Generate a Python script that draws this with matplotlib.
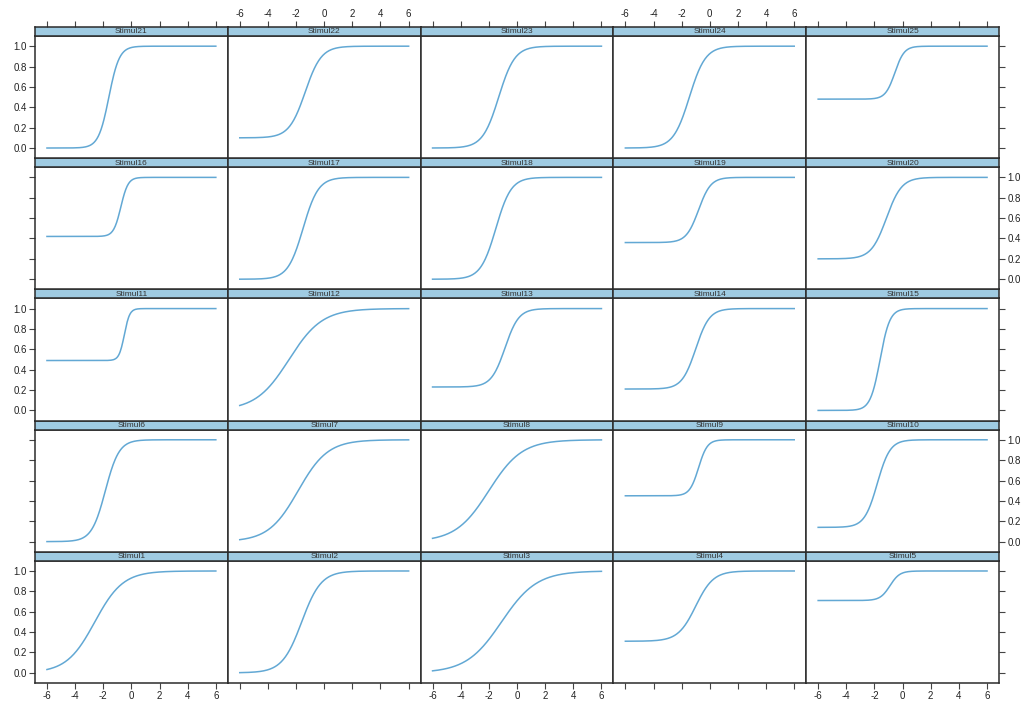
import numpy as np
import matplotlib.pyplot as plt

# item characteristic curves, three-parameter logistic per stimulus
stimuli = ["Stimul%d" % i for i in range(1, 26)]
guess = [0.00, 0.00, 0.00, 0.31, 0.71,
         0.00, 0.00, 0.00, 0.45, 0.14,
         0.49, 0.00, 0.23, 0.21, 0.00,
         0.42, 0.00, 0.00, 0.36, 0.20,
         0.00, 0.10, 0.00, 0.00, 0.48]
location = [-2.6, -1.6, -1.1, -1.0, -0.9,
            -1.85, -1.85, -2.0, -0.8, -1.8,
            -0.5, -2.5, -0.85, -1.0, -1.6,
            -0.75, -1.5, -1.5, -0.8, -1.15,
            -1.6, -1.35, -1.3, -1.45, -0.55]
slope = [1.0, 1.45, 0.8, 1.6, 2.9,
         2.05, 0.95, 0.85, 3.2, 2.2,
         5.3, 0.85, 2.05, 2.05, 2.9,
         3.9, 1.85, 1.85, 2.3, 1.85,
         2.7, 1.75, 1.75, 1.75, 3.0]
theta = np.linspace(-6, 6, 241)

xticks = [-6, -4, -2, 0, 2, 4, 6]
yticks = [0.0, 0.2, 0.4, 0.6, 0.8, 1.0]

W, H = 1022, 702
plt.rcParams['font.family'] = ['Liberation Sans', 'DejaVu Sans']
plt.rcParams['axes.unicode_minus'] = False
fig = plt.figure(figsize=(W / 100, H / 100), dpi=100)

left, right = 35, 999
top, bottom = 27, 683
ncol, nrow = 5, 5
cw = (right - left) / ncol
rh = (bottom - top) / nrow
strip_h = 9
frame = '#2b2b2b'
strip_col = '#9fcbe2'
line_col = '#62a8d4'
tick_kw = dict(direction='out', length=4, width=0.8, color='#444444',
               labelsize=7, pad=2, labelcolor='#222222')

for k in range(25):
    row = nrow - 1 - k // ncol
    col = k % ncol
    x0 = left + col * cw
    y_top = top + row * rh
    # panel
    ax = fig.add_axes([x0 / W, 1 - (y_top + rh) / H, cw / W, (rh - strip_h) / H])
    prob = guess[k] + (1 - guess[k]) / (1 + np.exp(-slope[k] * (theta - location[k])))
    ax.plot(theta, prob, color=line_col, lw=1.1)
    ax.set_xlim(-6.85, 6.85)
    ax.set_ylim(-0.1, 1.1)
    for s in ax.spines.values():
        s.set_color(frame)
        s.set_linewidth(1.1)
    ax.set_xticks(xticks)
    ax.set_yticks(yticks)
    ax.tick_params(**tick_kw)
    ax.tick_params(axis='x', bottom=(row == nrow - 1), top=False,
                   labelbottom=(row == nrow - 1 and col % 2 == 0))
    ax.tick_params(axis='y', left=(col == 0), right=(col == ncol - 1),
                   labelleft=(col == 0 and row % 2 == 0),
                   labelright=(col == ncol - 1 and row % 2 == 1))
    ax.yaxis.set_major_formatter(plt.FormatStrFormatter('%.1f'))

    # strip
    sx = fig.add_axes([x0 / W, 1 - (y_top + strip_h) / H, cw / W, strip_h / H])
    sx.set_facecolor(strip_col)
    sx.set_xlim(-6.85, 6.85)
    sx.set_ylim(0, 1)
    sx.set_yticks([])
    for s in sx.spines.values():
        s.set_color(frame)
        s.set_linewidth(1.1)
    if row == 0:
        sx.set_xticks(xticks)
        sx.tick_params(axis='x', **tick_kw)
        sx.tick_params(axis='x', bottom=False, labelbottom=False, top=True,
                       labeltop=(col % 2 == 1))
    else:
        sx.set_xticks([])
    sx.text(0, 0.45, stimuli[k], ha='center', va='center', fontsize=6,
            color='#333333')

fig.savefig('out.png', dpi=100)
